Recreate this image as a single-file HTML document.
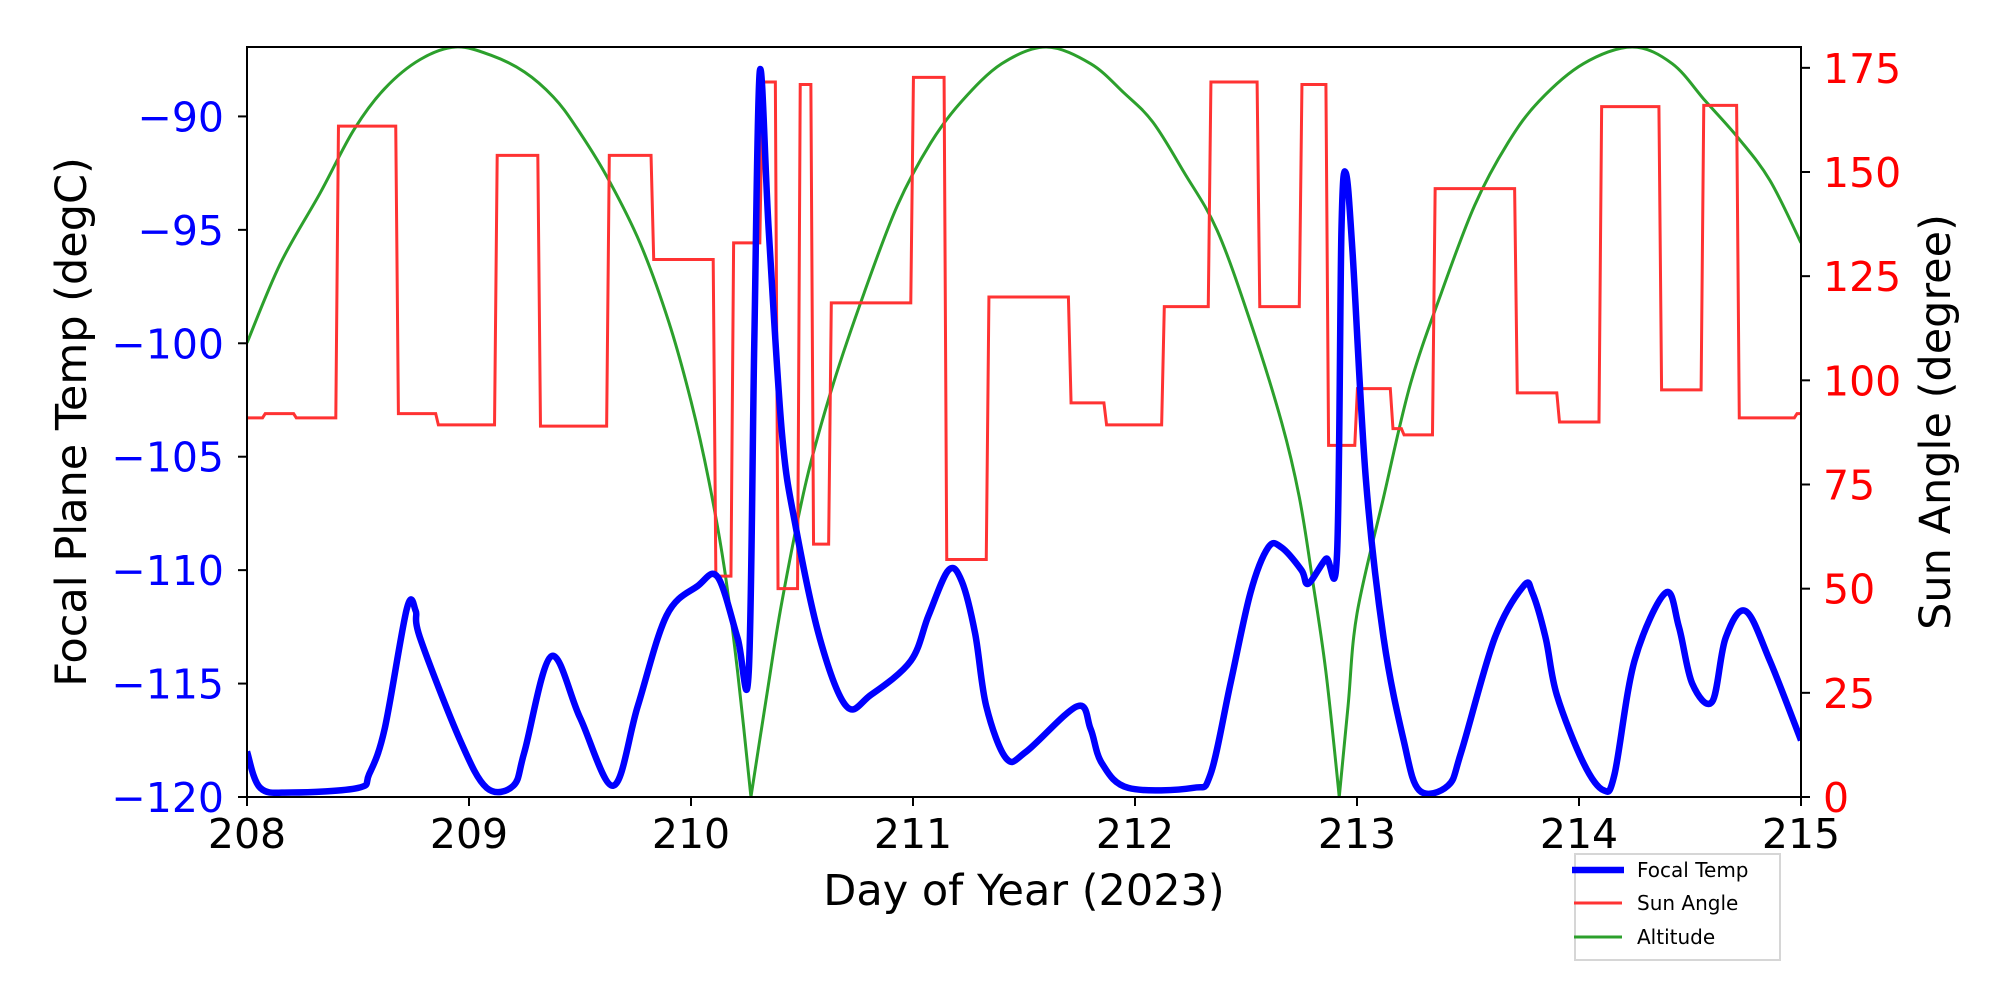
<!DOCTYPE html>
<html><head><meta charset="utf-8"><style>
html,body{margin:0;padding:0;background:#fff;}
svg{display:block;font-family:"DejaVu Sans","Liberation Sans",sans-serif;}
</style></head><body>
<svg id="chart" width="2000" height="1000" viewBox="0 0 2000 1000" xmlns="http://www.w3.org/2000/svg" style="position:absolute;left:0;top:0">
<rect width="2000" height="1000" fill="#fff"/>
<g id="plot"></g>
<g id="axes"></g>
</svg>
<script>
const xTicks=[208,209,210,211,212,213,214,215];
const leftTicks=[-120,-115,-110,-105,-100,-95,-90];
const rightTicks=[0,25,50,75,100,125,150,175];
const tempDays=[208.00,208.06,208.2,208.50,208.55,208.62,208.72,208.76,208.78,208.96,209.08,209.20,209.25,209.37,209.50,209.65,209.76,209.89,210.03,210.12,210.21,210.26,210.285,210.31,210.35,210.41,210.47,210.58,210.70,210.81,210.99,211.07,211.16,211.22,211.28,211.33,211.42,211.51,211.74,211.80,211.85,211.97,212.26,212.34,212.43,212.52,212.60,212.66,212.75,212.78,212.86,212.91,212.93,212.95,212.98,213.04,213.12,213.21,213.28,213.41,213.47,213.62,213.75,213.79,213.85,213.90,214.02,214.11,214.16,214.25,214.39,214.45,214.51,214.60,214.66,214.75,214.86,215.00];
const tempVals=[-118,-119.6,-119.8,-119.6,-119,-117,-111.7,-111.8,-113,-117.5,-119.6,-119.5,-118,-113.8,-116.5,-119.5,-116,-112,-110.7,-110.3,-113,-114.5,-100,-88,-95,-104,-108,-113,-116,-115.5,-114,-112,-110,-110.5,-112.8,-116,-118.3,-118,-116,-117,-118.5,-119.6,-119.6,-119,-115,-111,-109,-109,-110,-110.6,-109.5,-109.3,-95,-92.5,-96,-106,-113,-117.5,-119.7,-119.5,-118,-113,-110.7,-111,-113,-115.5,-118.5,-119.7,-119,-114,-111,-112.5,-115,-115.8,-113,-111.8,-114,-117.5];
const sunDays=[208.00,208.07,208.21,208.40,208.67,208.85,209.115,209.31,209.62,209.82,210.10,210.18,210.31,210.38,210.48,210.54,210.62,210.99,211.14,211.33,211.70,211.86,212.12,212.33,212.55,212.74,212.86,212.99,213.15,213.20,213.34,213.71,213.90,214.09,214.36,214.55,214.71,214.97];
const sunVals=[91,92,91,161,92,89.3,154,89,154,129,53,133,171.6,50,171,60.7,118.6,172.7,57,120,94.6,89.3,117.7,171.6,117.7,171,84.4,98,88.4,86.9,146,97,90,165.7,97.7,166,91,92];
const altDays=[208.0,208.15,208.33,208.48,208.62,208.78,208.94,209.1,209.25,209.38,209.48,209.62,209.77,209.9,210.0,210.08,210.15,210.21,210.27,210.34,210.41,210.52,210.64,210.78,210.93,211.08,211.22,211.4,211.6,211.8,211.95,212.08,212.22,212.37,212.52,212.66,212.74,212.8,212.86,212.92,212.96,213.0,213.12,213.24,213.38,213.53,213.68,213.82,214.02,214.24,214.42,214.57,214.72,214.86,215.0];
const altVals=[109,128,145,160,170,177,180,178,174,168,161,149,133,114,95,76,55,30,0,24,47,76,99,121,142,157,167,176,180,176,169,162,150,136,114,90,72,52,30,0,22,44,72,99,121,142,157,167,176,180,176,167,158,148,133];

const L=247,R=1801,T=47,B=797;
const X=d=>L+(d-208)/7*(R-L);
const YL=v=>B-(v+120)/(33.06)*(B-T);
const YR=v=>B-v/180*(B-T);
const NS="http://www.w3.org/2000/svg";
const plot=document.getElementById('plot'),axes=document.getElementById('axes');
function mk(tag,attrs,parent){const e=document.createElementNS(NS,tag);for(const k in attrs)e.setAttribute(k,attrs[k]);parent.appendChild(e);return e;}
function smooth(pts,cusps){
  let d='M'+pts[0][0]+','+pts[0][1];
  for(let i=0;i<pts.length-1;i++){
    const p0=pts[Math.max(0,i-1)],p1=pts[i],p2=pts[i+1],p3=pts[Math.min(pts.length-1,i+2)];
    const t1=cusps&&cusps(i)?0:1/6, t2=cusps&&cusps(i+1)?0:1/6;
    const c1=[p1[0]+(p2[0]-p0[0])*t1,p1[1]+(p2[1]-p0[1])*t1];
    const c2=[p2[0]-(p3[0]-p1[0])*t2,p2[1]-(p3[1]-p1[1])*t2];
    d+=' C'+c1[0]+','+c1[1]+' '+c2[0]+','+c2[1]+' '+p2[0]+','+p2[1];
  }
  return d;
}
const defs=mk('defs',{},document.getElementById('chart'));
const clip=mk('clipPath',{id:'cp'},defs);
mk('rect',{x:L,y:T,width:R-L,height:B-T},clip);
plot.setAttribute('clip-path','url(#cp)');

const altPts=altDays.map((d,i)=>[X(d),YR(altVals[i])]);
const ga=mk('path',{d:smooth(altPts,i=>altVals[i]===0),fill:'none',stroke:'#2ca02c','stroke-width':3},plot);



let sp=[];
for(let i=0;i<sunDays.length;i++){
  const end=i+1<sunDays.length?sunDays[i+1]:215.05;
  sp.push(X(sunDays[i]+(i?0.012:0))+','+YR(sunVals[i]));
  sp.push(X(end)+','+YR(sunVals[i]));
}
const gs=mk('polyline',{points:sp.join(' '),fill:'none',stroke:'#ff3333','stroke-width':3},plot);



const tPts=tempDays.map((d,i)=>[X(d),YL(tempVals[i])]);
const gt=mk('path',{d:smooth(tPts),fill:'none',stroke:'#0000ff','stroke-width':6.5,'stroke-linejoin':'round'},plot);



const frame=mk('rect',{x:L,y:T,width:R-L,height:B-T,fill:'none',stroke:'#000','stroke-width':2},axes);


xTicks.forEach(t=>{
  mk('line',{x1:X(t),x2:X(t),y1:B,y2:B+9,stroke:'#000','stroke-width':2},axes);
  const tx=mk('text',{x:X(t),y:B+51,'font-size':41,'text-anchor':'middle',fill:'#000'},axes);
  tx.textContent=t;
  
  
});
leftTicks.forEach(t=>{
  mk('line',{x1:L-9,x2:L,y1:YL(t),y2:YL(t),stroke:'#000','stroke-width':2},axes);
  const tx=mk('text',{x:L-23,y:YL(t)+15,'font-size':41,'text-anchor':'end',fill:'#0000ff'},axes);
  tx.textContent=String(t).replace('-','\u2212');
  
  
});
rightTicks.forEach(t=>{
  mk('line',{x1:R,x2:R+9,y1:YR(t),y2:YR(t),stroke:'#000','stroke-width':2},axes);
  const tx=mk('text',{x:R+22,y:YR(t)+15,'font-size':41,'text-anchor':'start',fill:'#ff0000'},axes);
  tx.textContent=t;
  
  
});
</script>
<svg style="position:absolute;left:0;top:0" width="2000" height="1000" xmlns="http://www.w3.org/2000/svg">
<text x="1024" y="905" font-size="43" text-anchor="middle" font-family="DejaVu Sans, Liberation Sans, sans-serif">Day of Year (2023)</text>
<text transform="translate(86,422) rotate(-90)" font-size="43" text-anchor="middle" font-family="DejaVu Sans, Liberation Sans, sans-serif">Focal Plane Temp (degC)</text>
<text transform="translate(1950,422) rotate(-90)" font-size="43" text-anchor="middle" font-family="DejaVu Sans, Liberation Sans, sans-serif">Sun Angle (degree)</text>
<g font-family="DejaVu Sans, Liberation Sans, sans-serif" font-size="20" transform="translate(-9,-4)">
<rect x="1584" y="858" width="205" height="106" fill="#fff" stroke="#d6d6d6" stroke-width="2"/>
<line x1="1581" x2="1633" y1="874" y2="874" stroke="#0000ff" stroke-width="6.5"/>
<text x="1646" y="881">Focal Temp</text>
<line x1="1583" x2="1631" y1="907" y2="907" stroke="#ff3333" stroke-width="3"/>
<text x="1646" y="914">Sun Angle</text>
<line x1="1583" x2="1631" y1="941" y2="941" stroke="#2ca02c" stroke-width="3"/>
<text x="1646" y="948">Altitude</text>
</g>
</svg>
</body></html>
